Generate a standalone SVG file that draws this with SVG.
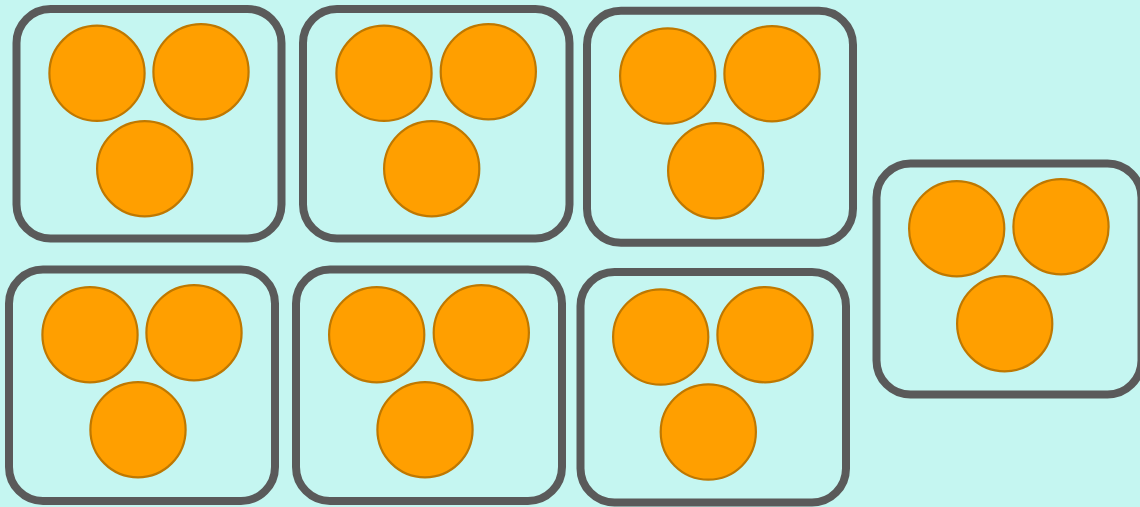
<svg xmlns="http://www.w3.org/2000/svg" width="1140" height="507" viewBox="0 0 1140 507">
<style>
.box{fill:#c5f6f1;stroke:#5a5a5a;stroke-width:8}
.ball{fill:#ff9f00;stroke:#bf7800;stroke-width:2.2}
</style>
<rect x="0" y="0" width="1140" height="507" fill="#c5f6f1"/>
<g id="node1">
<rect class="box" x="16.5" y="9" width="265" height="229.5" rx="34"/>
<circle class="ball" cx="97" cy="73.3" r="47.6"/>
<circle class="ball" cx="201" cy="71.7" r="47.6"/>
<circle class="ball" cx="144.7" cy="168.7" r="47.6"/>
</g>
<g id="node2">
<rect class="box" x="303" y="9" width="266.5" height="229.5" rx="34"/>
<circle class="ball" cx="384" cy="73.3" r="47.6"/>
<circle class="ball" cx="488.3" cy="71.7" r="47.6"/>
<circle class="ball" cx="431.7" cy="168.7" r="47.6"/>
</g>
<g id="node3">
<rect class="box" x="587" y="10.8" width="266" height="232" rx="34"/>
<circle class="ball" cx="667.7" cy="76" r="47.6"/>
<circle class="ball" cx="772" cy="73.7" r="47.6"/>
<circle class="ball" cx="715.7" cy="170.7" r="47.6"/>
</g>
<g id="node4">
<rect class="box" x="9" y="269.5" width="266" height="231.5" rx="34"/>
<circle class="ball" cx="90" cy="334.7" r="47.6"/>
<circle class="ball" cx="194" cy="332.7" r="47.6"/>
<circle class="ball" cx="138" cy="429.7" r="47.6"/>
</g>
<g id="node5">
<rect class="box" x="296" y="269.5" width="266" height="231.5" rx="34"/>
<circle class="ball" cx="376.7" cy="334.7" r="47.6"/>
<circle class="ball" cx="481.3" cy="332.7" r="47.6"/>
<circle class="ball" cx="425" cy="429.7" r="47.6"/>
</g>
<g id="node6">
<rect class="box" x="580.5" y="272" width="265.5" height="230.5" rx="34"/>
<circle class="ball" cx="660.7" cy="337" r="47.6"/>
<circle class="ball" cx="765" cy="334.7" r="47.6"/>
<circle class="ball" cx="708.3" cy="432" r="47.6"/>
</g>
<g id="node7">
<rect class="box" x="876.5" y="163.5" width="265" height="231" rx="34"/>
<circle class="ball" cx="956.7" cy="228.7" r="47.6"/>
<circle class="ball" cx="1061" cy="226.7" r="47.6"/>
<circle class="ball" cx="1004.7" cy="323.7" r="47.6"/>
</g>
<g id="connectors"/>
</svg>
